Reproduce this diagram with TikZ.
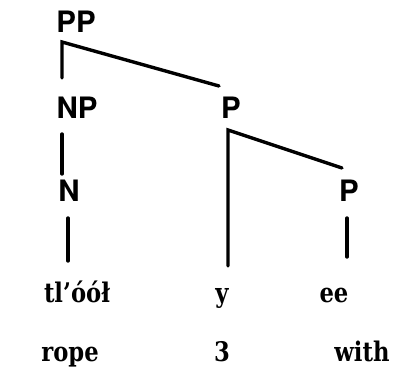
\documentclass[tikz,border=0pt]{standalone}
\usepackage{fontspec}
\setmainfont{Liberation Serif}
\setsansfont{TeX Gyre Heros}
\newfontfamily\wordfont[FakeStretch=0.84]{DejaVu Serif}
\begin{document}
\begin{tikzpicture}[x=1pt,y=-1pt,
  cat/.style={font=\sffamily\bfseries\fontsize{29.5}{30}\selectfont,inner sep=0pt,anchor=base},
  word/.style={font=\wordfont\bfseries\fontsize{27}{28}\selectfont,inner sep=0pt,anchor=base},
  branch/.style={line width=3.4pt,line cap=round}]
\useasboundingbox (0,0) rectangle (394,381);
\node[cat] (PP) at (76,32) {PP};
\node[cat] (NP) at (77,118) {NP};
\node[cat] (Pm) at (231,118) {P};
\node[cat] (N) at (69,201) {N};
\node[cat] (Pr) at (349,201) {P};
\node[word] (w1) at (77,302) {tl’óół};
\node[word] (w2) at (222,302) {y};
\node[word] (w3) at (334,302) {ee};
\node[word] (g1) at (70,361) {rope};
\node[word] (g2) at (222,361) {3};
\node[word] (g3) at (362,361) {with};
\coordinate (a1) at (62,42);
\coordinate (a2) at (62,78);
\coordinate (a3) at (219,86);
\coordinate (b1) at (62,134);
\coordinate (b2) at (62,174);
\coordinate (c1) at (228,130);
\coordinate (c2) at (228,266);
\coordinate (c3) at (342,168);
\coordinate (d1) at (68,218);
\coordinate (d2) at (68,261);
\coordinate (e1) at (347,218);
\coordinate (e2) at (347,257);
\draw[branch] (a2) -- (a1) -- (a3);
\draw[branch] (b1) -- (b2);
\draw[branch] (c2) -- (c1) -- (c3);
\draw[branch] (d1) -- (d2);
\draw[branch] (e1) -- (e2);
\end{tikzpicture}
\end{document}
